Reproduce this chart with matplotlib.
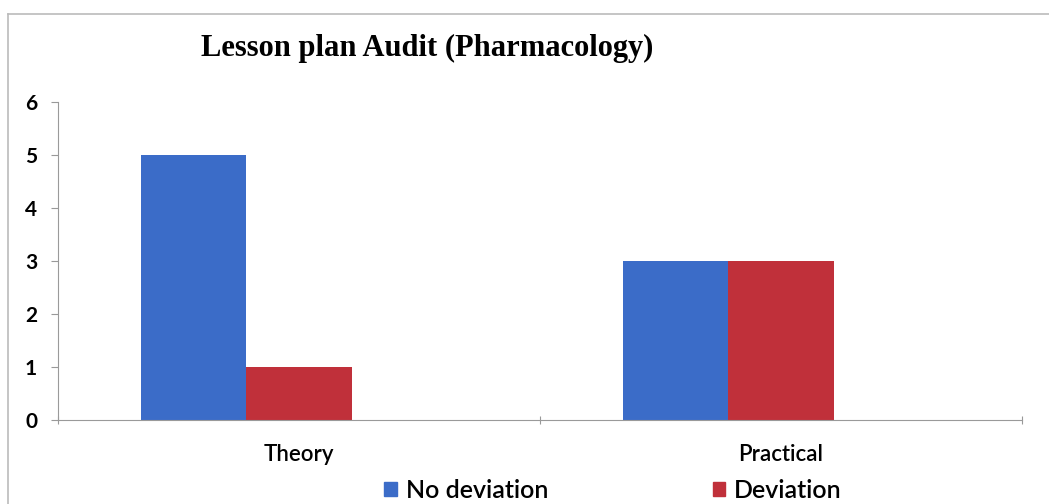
import matplotlib
matplotlib.use("Agg")
import matplotlib.pyplot as plt
import numpy as np
from matplotlib.lines import Line2D
from matplotlib.patches import Patch

categories = ["Theory", "Practical"]
no_deviation = [5, 3]
deviation = [1, 3]
series_names = ["No deviation", "Deviation"]
y_ticks = [0, 1, 2, 3, 4, 5, 6]
title = "Lesson plan Audit (Pharmacology)"

blue = "#3b6cc8"
red = "#c0303a"
sans = ["Lato", "DejaVu Sans"]

fig = plt.figure(figsize=(10.49, 5.04), dpi=100)
ax = fig.add_axes([58/1049, 1-420/504, (1022-58)/1049, (420-102)/504])

x = np.arange(len(categories))
w = 0.218
ax.bar(x - w, no_deviation, width=w, color=blue, align="center", label=series_names[0])
ax.bar(x, deviation, width=w, color=red, align="center", label=series_names[1])

ax.set_xlim(-0.5, len(categories) - 0.5)
ax.set_ylim(0, 6)
ax.set_yticks(y_ticks)
ax.set_yticklabels([str(v) for v in y_ticks], fontsize=15, fontweight="bold", family=sans)

ax.set_xticks(np.arange(-0.5, len(categories)), minor=False)
ax.set_xticklabels([])
ax.set_xticks(x, minor=True)
ax.set_xticklabels(categories, minor=True, fontsize=16, fontweight="semibold", family=sans)
ax.tick_params(axis="x", which="minor", length=0, pad=17)
ax.tick_params(axis="x", which="major", length=6, color="#999999", direction="inout")
ax.tick_params(axis="y", length=5, color="#999999", pad=10)

for s in ["top", "right"]:
    ax.spines[s].set_visible(False)
for s in ["left", "bottom"]:
    ax.spines[s].set_color("#9a9a9a")

fig.text(427/1049, 1-48/504, title, ha="center", va="center",
         fontsize=22, fontweight="bold", family=["Liberation Serif", "DejaVu Serif"])

# figure border
fig.add_artist(Line2D([8/1049, 1], [1-14/504, 1-14/504], color="#bbbbbb", lw=1.2, transform=fig.transFigure))
fig.add_artist(Line2D([8/1049, 8/1049], [0, 1-14/504], color="#bbbbbb", lw=1.2, transform=fig.transFigure))

handles = [Patch(color=blue), Patch(color=red)]
leg = fig.legend(handles, series_names, loc="center", bbox_to_anchor=(613/1049, 1-490/504),
                 ncol=2, frameon=False, prop={"family": sans, "size": 18, "weight": "semibold"},
                 handlelength=0.5, handleheight=0.5, handletextpad=0.35, columnspacing=6.6)

fig.savefig("out.png", dpi=100)
